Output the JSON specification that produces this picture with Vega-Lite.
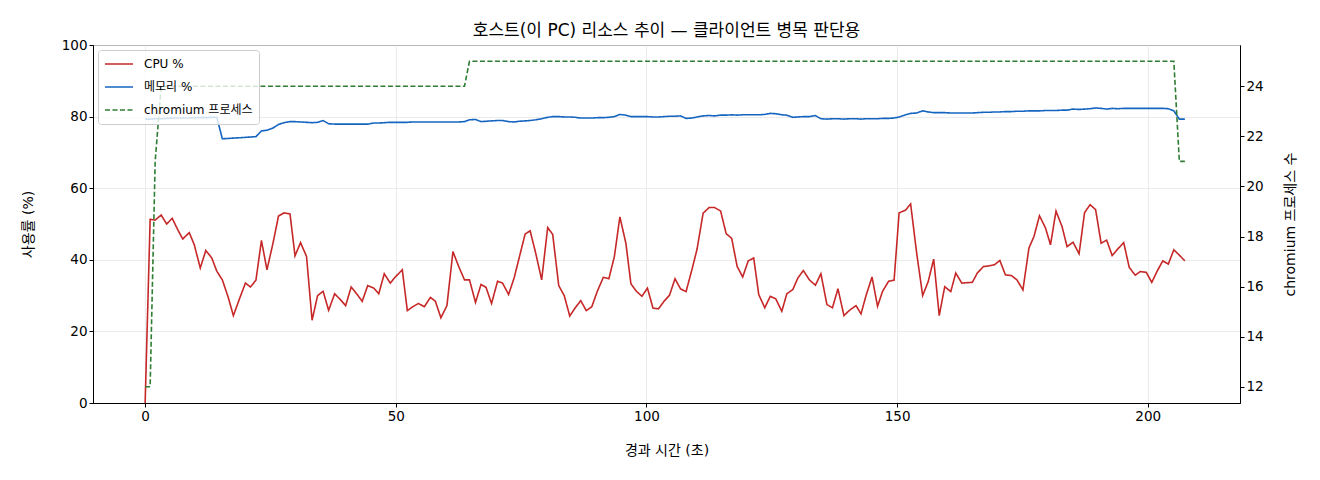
{
  "$schema": "https://vega.github.io/schema/vega-lite/v6.json",
  "width": 1147,
  "height": 358,
  "autosize": {"type": "none"},
  "padding": {"left": 93, "top": 45, "right": 80, "bottom": 77},
  "background": "white",
  "title": {"text": "호스트(이 PC) 리소스 추이 — 클라이언트 병목 판단용", "fontSize": 17, "fontWeight": "normal", "font": "DejaVu Sans, Noto Sans CJK KR", "color": "black", "offset": 3, "dy": 5},
  "config": {
    "font": "DejaVu Sans, Noto Sans CJK KR",
    "view": {"stroke": "black", "strokeWidth": 1},
    "axis": {
      "labelFont": "DejaVu Sans, Noto Sans CJK KR", "labelFontSize": 13.5, "labelColor": "black",
      "titleFont": "DejaVu Sans, Noto Sans CJK KR", "titleFontSize": 14, "titleFontWeight": "normal", "titleColor": "black",
      "domainColor": "black", "tickColor": "black", "tickSize": 4, "gridColor": "#e6e6e6", "gridWidth": 0.8
    }
  },
  "data": {
    "values": [
      {"t": 0.0, "cpu": 0, "mem": 79.3, "proc": 12},
      {"t": 1.0, "cpu": 51.3, "mem": 79.3, "proc": 12},
      {"t": 2.0, "cpu": 51.1, "mem": 79.4, "proc": 21},
      {"t": 3.2, "cpu": 52.5, "mem": 79.4, "proc": 24},
      {"t": 4.3, "cpu": 50.0, "mem": 79.5, "proc": 24},
      {"t": 5.4, "cpu": 51.6, "mem": 79.6, "proc": 24},
      {"t": 6.4, "cpu": 48.7, "mem": 79.6, "proc": 24},
      {"t": 7.5, "cpu": 45.8, "mem": 79.6, "proc": 24},
      {"t": 8.8, "cpu": 47.6, "mem": 79.6, "proc": 24},
      {"t": 9.8, "cpu": 44.2, "mem": 79.7, "proc": 24},
      {"t": 11.0, "cpu": 37.7, "mem": 79.7, "proc": 24},
      {"t": 12.1, "cpu": 42.6, "mem": 79.7, "proc": 24},
      {"t": 13.3, "cpu": 40.5, "mem": 79.8, "proc": 24},
      {"t": 14.3, "cpu": 36.8, "mem": 79.8, "proc": 24},
      {"t": 15.4, "cpu": 34.4, "mem": 73.8, "proc": 24},
      {"t": 16.6, "cpu": 29.4, "mem": 73.9, "proc": 24},
      {"t": 17.6, "cpu": 24.4, "mem": 74.0, "proc": 24},
      {"t": 18.9, "cpu": 29.4, "mem": 74.1, "proc": 24},
      {"t": 20.0, "cpu": 33.5, "mem": 74.2, "proc": 24},
      {"t": 21.0, "cpu": 32.4, "mem": 74.3, "proc": 24},
      {"t": 22.1, "cpu": 34.3, "mem": 74.4, "proc": 24},
      {"t": 23.2, "cpu": 45.4, "mem": 76.0, "proc": 24},
      {"t": 24.3, "cpu": 37.2, "mem": 76.2, "proc": 24},
      {"t": 25.5, "cpu": 44.6, "mem": 76.8, "proc": 24},
      {"t": 26.6, "cpu": 52.2, "mem": 77.8, "proc": 24},
      {"t": 27.7, "cpu": 53.1, "mem": 78.3, "proc": 24},
      {"t": 28.9, "cpu": 52.8, "mem": 78.6, "proc": 24},
      {"t": 29.9, "cpu": 41.1, "mem": 78.6, "proc": 24},
      {"t": 31.0, "cpu": 44.8, "mem": 78.5, "proc": 24},
      {"t": 32.2, "cpu": 40.9, "mem": 78.4, "proc": 24},
      {"t": 33.3, "cpu": 23.1, "mem": 78.3, "proc": 24},
      {"t": 34.4, "cpu": 30.0, "mem": 78.4, "proc": 24},
      {"t": 35.5, "cpu": 31.2, "mem": 78.9, "proc": 24},
      {"t": 36.6, "cpu": 25.9, "mem": 78.0, "proc": 24},
      {"t": 37.8, "cpu": 30.5, "mem": 77.9, "proc": 24},
      {"t": 38.8, "cpu": 29.1, "mem": 77.9, "proc": 24},
      {"t": 40.0, "cpu": 27.2, "mem": 77.9, "proc": 24},
      {"t": 41.1, "cpu": 32.4, "mem": 77.9, "proc": 24},
      {"t": 42.2, "cpu": 30.5, "mem": 77.9, "proc": 24},
      {"t": 43.3, "cpu": 28.4, "mem": 77.9, "proc": 24},
      {"t": 44.4, "cpu": 32.8, "mem": 77.9, "proc": 24},
      {"t": 45.6, "cpu": 32.1, "mem": 78.2, "proc": 24},
      {"t": 46.6, "cpu": 30.5, "mem": 78.2, "proc": 24},
      {"t": 47.7, "cpu": 36.1, "mem": 78.3, "proc": 24},
      {"t": 48.9, "cpu": 33.5, "mem": 78.4, "proc": 24},
      {"t": 49.9, "cpu": 35.2, "mem": 78.4, "proc": 24},
      {"t": 51.3, "cpu": 37.2, "mem": 78.4, "proc": 24},
      {"t": 52.3, "cpu": 25.8, "mem": 78.4, "proc": 24},
      {"t": 53.4, "cpu": 26.9, "mem": 78.5, "proc": 24},
      {"t": 54.5, "cpu": 27.8, "mem": 78.5, "proc": 24},
      {"t": 55.7, "cpu": 26.9, "mem": 78.5, "proc": 24},
      {"t": 56.9, "cpu": 29.5, "mem": 78.5, "proc": 24},
      {"t": 57.9, "cpu": 28.4, "mem": 78.5, "proc": 24},
      {"t": 59.0, "cpu": 23.8, "mem": 78.5, "proc": 24},
      {"t": 60.2, "cpu": 27.2, "mem": 78.5, "proc": 24},
      {"t": 61.4, "cpu": 42.3, "mem": 78.5, "proc": 24},
      {"t": 62.5, "cpu": 38.3, "mem": 78.5, "proc": 24},
      {"t": 63.7, "cpu": 34.4, "mem": 78.6, "proc": 24},
      {"t": 64.7, "cpu": 34.4, "mem": 79.1, "proc": 25},
      {"t": 65.9, "cpu": 28.1, "mem": 79.2, "proc": 25},
      {"t": 67.0, "cpu": 33.1, "mem": 78.6, "proc": 25},
      {"t": 68.0, "cpu": 32.3, "mem": 78.7, "proc": 25},
      {"t": 69.1, "cpu": 27.8, "mem": 78.8, "proc": 25},
      {"t": 70.3, "cpu": 34.0, "mem": 78.9, "proc": 25},
      {"t": 71.3, "cpu": 33.5, "mem": 78.9, "proc": 25},
      {"t": 72.5, "cpu": 30.3, "mem": 78.6, "proc": 25},
      {"t": 73.6, "cpu": 34.9, "mem": 78.5, "proc": 25},
      {"t": 74.6, "cpu": 40.5, "mem": 78.7, "proc": 25},
      {"t": 75.8, "cpu": 47.2, "mem": 78.8, "proc": 25},
      {"t": 76.8, "cpu": 48.1, "mem": 78.9, "proc": 25},
      {"t": 77.9, "cpu": 41.9, "mem": 79.1, "proc": 25},
      {"t": 79.1, "cpu": 34.4, "mem": 79.4, "proc": 25},
      {"t": 80.3, "cpu": 49.0, "mem": 79.8, "proc": 25},
      {"t": 81.3, "cpu": 47.1, "mem": 80.0, "proc": 25},
      {"t": 82.5, "cpu": 32.8, "mem": 80.0, "proc": 25},
      {"t": 83.6, "cpu": 30.0, "mem": 79.9, "proc": 25},
      {"t": 84.7, "cpu": 24.3, "mem": 79.9, "proc": 25},
      {"t": 85.8, "cpu": 26.6, "mem": 79.8, "proc": 25},
      {"t": 86.9, "cpu": 28.6, "mem": 79.6, "proc": 25},
      {"t": 88.0, "cpu": 25.8, "mem": 79.6, "proc": 25},
      {"t": 89.1, "cpu": 26.9, "mem": 79.6, "proc": 25},
      {"t": 90.2, "cpu": 31.2, "mem": 79.7, "proc": 25},
      {"t": 91.4, "cpu": 35.1, "mem": 79.7, "proc": 25},
      {"t": 92.5, "cpu": 34.7, "mem": 79.8, "proc": 25},
      {"t": 93.6, "cpu": 40.9, "mem": 80.0, "proc": 25},
      {"t": 94.7, "cpu": 52.0, "mem": 80.6, "proc": 25},
      {"t": 95.9, "cpu": 44.6, "mem": 80.4, "proc": 25},
      {"t": 96.9, "cpu": 33.3, "mem": 80.0, "proc": 25},
      {"t": 98.0, "cpu": 31.2, "mem": 80.0, "proc": 25},
      {"t": 99.1, "cpu": 29.8, "mem": 80.0, "proc": 25},
      {"t": 100.2, "cpu": 32.1, "mem": 80.0, "proc": 25},
      {"t": 101.3, "cpu": 26.5, "mem": 79.9, "proc": 25},
      {"t": 102.4, "cpu": 26.3, "mem": 79.9, "proc": 25},
      {"t": 103.5, "cpu": 28.4, "mem": 80.0, "proc": 25},
      {"t": 104.6, "cpu": 30.1, "mem": 80.1, "proc": 25},
      {"t": 105.7, "cpu": 34.7, "mem": 80.1, "proc": 25},
      {"t": 106.8, "cpu": 31.9, "mem": 80.2, "proc": 25},
      {"t": 107.9, "cpu": 31.1, "mem": 79.5, "proc": 25},
      {"t": 109.1, "cpu": 37.4, "mem": 79.6, "proc": 25},
      {"t": 110.1, "cpu": 43.0, "mem": 79.9, "proc": 25},
      {"t": 111.3, "cpu": 53.0, "mem": 80.2, "proc": 25},
      {"t": 112.5, "cpu": 54.6, "mem": 80.3, "proc": 25},
      {"t": 113.6, "cpu": 54.6, "mem": 80.2, "proc": 25},
      {"t": 114.8, "cpu": 53.6, "mem": 80.4, "proc": 25},
      {"t": 115.9, "cpu": 47.3, "mem": 80.4, "proc": 25},
      {"t": 117.0, "cpu": 46.0, "mem": 80.5, "proc": 25},
      {"t": 118.1, "cpu": 38.1, "mem": 80.4, "proc": 25},
      {"t": 119.2, "cpu": 35.2, "mem": 80.5, "proc": 25},
      {"t": 120.3, "cpu": 39.7, "mem": 80.5, "proc": 25},
      {"t": 121.4, "cpu": 40.5, "mem": 80.5, "proc": 25},
      {"t": 122.4, "cpu": 30.3, "mem": 80.5, "proc": 25},
      {"t": 123.6, "cpu": 26.6, "mem": 80.6, "proc": 25},
      {"t": 124.7, "cpu": 29.8, "mem": 80.9, "proc": 25},
      {"t": 125.8, "cpu": 29.1, "mem": 80.8, "proc": 25},
      {"t": 127.0, "cpu": 25.6, "mem": 80.5, "proc": 25},
      {"t": 128.0, "cpu": 30.5, "mem": 80.4, "proc": 25},
      {"t": 129.2, "cpu": 31.7, "mem": 79.8, "proc": 25},
      {"t": 130.2, "cpu": 34.9, "mem": 79.9, "proc": 25},
      {"t": 131.3, "cpu": 37.0, "mem": 80.0, "proc": 25},
      {"t": 132.5, "cpu": 34.4, "mem": 80.0, "proc": 25},
      {"t": 133.7, "cpu": 32.9, "mem": 80.3, "proc": 25},
      {"t": 134.8, "cpu": 36.1, "mem": 79.4, "proc": 25},
      {"t": 136.0, "cpu": 27.5, "mem": 79.3, "proc": 25},
      {"t": 137.1, "cpu": 26.6, "mem": 79.4, "proc": 25},
      {"t": 138.2, "cpu": 31.9, "mem": 79.4, "proc": 25},
      {"t": 139.4, "cpu": 24.4, "mem": 79.3, "proc": 25},
      {"t": 140.5, "cpu": 25.9, "mem": 79.4, "proc": 25},
      {"t": 141.8, "cpu": 27.2, "mem": 79.4, "proc": 25},
      {"t": 142.8, "cpu": 24.9, "mem": 79.3, "proc": 25},
      {"t": 143.8, "cpu": 30.0, "mem": 79.4, "proc": 25},
      {"t": 145.0, "cpu": 35.2, "mem": 79.4, "proc": 25},
      {"t": 146.1, "cpu": 27.0, "mem": 79.4, "proc": 25},
      {"t": 147.1, "cpu": 31.2, "mem": 79.5, "proc": 25},
      {"t": 148.3, "cpu": 34.0, "mem": 79.5, "proc": 25},
      {"t": 149.4, "cpu": 34.3, "mem": 79.6, "proc": 25},
      {"t": 150.4, "cpu": 53.1, "mem": 79.9, "proc": 25},
      {"t": 151.7, "cpu": 53.9, "mem": 80.5, "proc": 25},
      {"t": 152.7, "cpu": 55.6, "mem": 80.9, "proc": 25},
      {"t": 153.9, "cpu": 41.9, "mem": 81.0, "proc": 25},
      {"t": 155.1, "cpu": 30.0, "mem": 81.6, "proc": 25},
      {"t": 156.2, "cpu": 33.9, "mem": 81.3, "proc": 25},
      {"t": 157.3, "cpu": 40.2, "mem": 81.1, "proc": 25},
      {"t": 158.4, "cpu": 24.4, "mem": 81.1, "proc": 25},
      {"t": 159.5, "cpu": 32.5, "mem": 81.1, "proc": 25},
      {"t": 160.7, "cpu": 31.1, "mem": 81.0, "proc": 25},
      {"t": 161.7, "cpu": 36.3, "mem": 81.0, "proc": 25},
      {"t": 162.9, "cpu": 33.5, "mem": 81.0, "proc": 25},
      {"t": 163.9, "cpu": 33.6, "mem": 81.0, "proc": 25},
      {"t": 165.0, "cpu": 33.7, "mem": 81.0, "proc": 25},
      {"t": 166.0, "cpu": 36.3, "mem": 81.1, "proc": 25},
      {"t": 167.2, "cpu": 38.1, "mem": 81.2, "proc": 25},
      {"t": 168.3, "cpu": 38.3, "mem": 81.2, "proc": 25},
      {"t": 169.4, "cpu": 38.6, "mem": 81.3, "proc": 25},
      {"t": 170.5, "cpu": 39.8, "mem": 81.3, "proc": 25},
      {"t": 171.6, "cpu": 35.8, "mem": 81.4, "proc": 25},
      {"t": 172.8, "cpu": 35.6, "mem": 81.4, "proc": 25},
      {"t": 173.9, "cpu": 34.4, "mem": 81.5, "proc": 25},
      {"t": 175.1, "cpu": 31.6, "mem": 81.5, "proc": 25},
      {"t": 176.3, "cpu": 43.3, "mem": 81.6, "proc": 25},
      {"t": 177.3, "cpu": 46.5, "mem": 81.6, "proc": 25},
      {"t": 178.4, "cpu": 52.3, "mem": 81.6, "proc": 25},
      {"t": 179.6, "cpu": 48.9, "mem": 81.7, "proc": 25},
      {"t": 180.6, "cpu": 44.2, "mem": 81.7, "proc": 25},
      {"t": 181.7, "cpu": 53.6, "mem": 81.7, "proc": 25},
      {"t": 182.9, "cpu": 49.3, "mem": 81.8, "proc": 25},
      {"t": 183.9, "cpu": 43.7, "mem": 81.8, "proc": 25},
      {"t": 185.1, "cpu": 44.9, "mem": 82.1, "proc": 25},
      {"t": 186.3, "cpu": 41.7, "mem": 82.0, "proc": 25},
      {"t": 187.4, "cpu": 53.2, "mem": 82.1, "proc": 25},
      {"t": 188.5, "cpu": 55.4, "mem": 82.2, "proc": 25},
      {"t": 189.6, "cpu": 54.0, "mem": 82.4, "proc": 25},
      {"t": 190.7, "cpu": 44.6, "mem": 82.3, "proc": 25},
      {"t": 191.8, "cpu": 45.5, "mem": 82.1, "proc": 25},
      {"t": 192.9, "cpu": 41.2, "mem": 82.3, "proc": 25},
      {"t": 194.0, "cpu": 43.0, "mem": 82.2, "proc": 25},
      {"t": 195.2, "cpu": 44.8, "mem": 82.3, "proc": 25},
      {"t": 196.3, "cpu": 37.9, "mem": 82.3, "proc": 25},
      {"t": 197.5, "cpu": 35.7, "mem": 82.3, "proc": 25},
      {"t": 198.5, "cpu": 36.7, "mem": 82.3, "proc": 25},
      {"t": 199.7, "cpu": 36.5, "mem": 82.3, "proc": 25},
      {"t": 200.8, "cpu": 33.7, "mem": 82.3, "proc": 25},
      {"t": 201.9, "cpu": 36.9, "mem": 82.3, "proc": 25},
      {"t": 203.0, "cpu": 39.7, "mem": 82.3, "proc": 25},
      {"t": 204.1, "cpu": 38.8, "mem": 82.2, "proc": 25},
      {"t": 205.2, "cpu": 42.8, "mem": 81.6, "proc": 25},
      {"t": 206.3, "cpu": 41.3, "mem": 79.3, "proc": 21},
      {"t": 207.4, "cpu": 39.7, "mem": 79.3, "proc": 21}
    ]
  },
  "transform": [{"fold": ["cpu", "mem", "proc"], "as": ["series", "value"]}],
  "encoding": {
    "x": {
      "field": "t", "type": "quantitative", "title": "경과 시간 (초)",
      "scale": {"domain": [-10.4, 218.4], "nice": false, "zero": false},
      "axis": {"values": [0, 50, 100, 150, 200], "grid": true, "titlePadding": 21}
    },
    "color": {
      "field": "series", "type": "nominal",
      "scale": {"domain": ["cpu", "mem", "proc"], "range": ["#c62828", "#1565c0", "#2e7d32"]},
      "legend": {
        "title": null, "orient": "top-left", "offset": 5,
        "labelExpr": "datum.value == 'cpu' ? 'CPU %' : datum.value == 'mem' ? '메모리 %' : 'chromium 프로세스'",
        "labelFontSize": 12, "labelFont": "DejaVu Sans, Noto Sans CJK KR", "labelColor": "black", "labelOffset": 10,
        "symbolType": "stroke", "symbolSize": 784, "symbolStrokeWidth": 1.6,
        "clipHeight": 16, "rowPadding": 7, "padding": 6, "fillColor": "rgba(255,255,255,0.8)",
        "strokeColor": "#cccccc", "cornerRadius": 3
      }
    },
    "strokeDash": {
      "field": "series", "type": "nominal",
      "scale": {"domain": ["cpu", "mem", "proc"], "range": [[1, 0], [1, 0], [5, 2.5]]},
      "legend": null
    }
  },
  "layer": [
    {
      "transform": [{"filter": "datum.series != 'proc'"}],
      "mark": {"type": "line", "strokeWidth": 1.6},
      "encoding": {
        "y": {
          "field": "value", "type": "quantitative", "title": "사용률 (%)",
          "scale": {"domain": [0, 100], "nice": false},
          "axis": {"values": [0, 20, 40, 60, 80, 100], "grid": true, "titlePadding": 26}
        }
      }
    },
    {
      "transform": [{"filter": "datum.series == 'proc'"}],
      "mark": {"type": "line", "strokeWidth": 1.6},
      "encoding": {
        "y": {
          "field": "value", "type": "quantitative", "title": "chromium 프로세스 수",
          "scale": {"domain": [11.35, 25.65], "nice": false, "zero": false},
          "axis": {"orient": "right", "values": [12, 14, 16, 18, 20, 22, 24], "grid": false, "titlePadding": 34, "titleAngle": 270, "titleBaseline": "bottom"}
        }
      }
    }
  ],
  "resolve": {"scale": {"y": "independent"}}
}
